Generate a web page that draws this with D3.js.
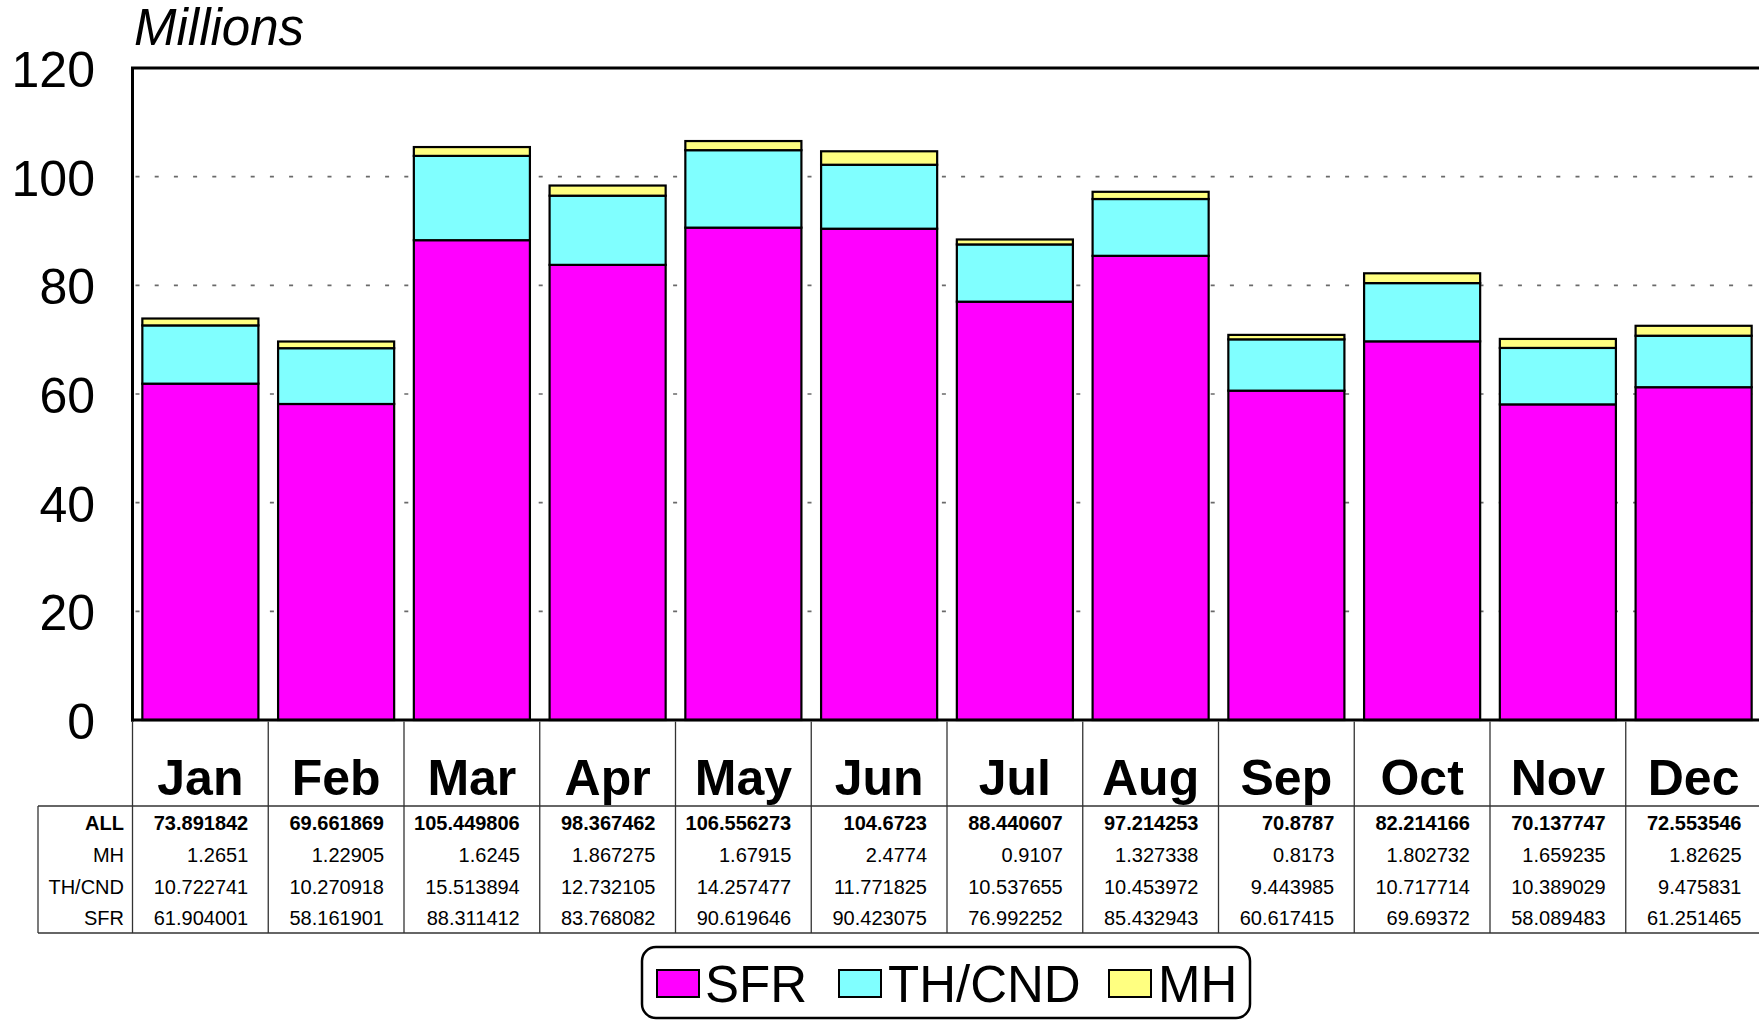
<!DOCTYPE html>
<html>
<head>
<meta charset="utf-8">
<script src="https://cdn.jsdelivr.net/npm/d3@7"></script>
<style>
html,body{margin:0;padding:0;background:#fff;}
svg{display:block;font-family:"Liberation Sans",Arial,Helvetica,sans-serif;}
</style>
</head>
<body>
<svg id="chart" width="1759" height="1024"></svg>
<script>
const months = ["Jan","Feb","Mar","Apr","May","Jun","Jul","Aug","Sep","Oct","Nov","Dec"];
const sfr = [61.904001,58.161901,88.311412,83.768082,90.619646,90.423075,76.992252,85.432943,60.617415,69.69372,58.089483,61.251465];
const thcnd = [10.722741,10.270918,15.513894,12.732105,14.257477,11.771825,10.537655,10.453972,9.443985,10.717714,10.389029,9.475831];
const mh = [1.2651,1.22905,1.6245,1.867275,1.67915,2.4774,0.9107,1.327338,0.8173,1.802732,1.659235,1.82625];
const allTotals = ["73.891842","69.661869","105.449806","98.367462","106.556273","104.6723","88.440607","97.214253","70.8787","82.214166","70.137747","72.553546"];
const mhText = ["1.2651","1.22905","1.6245","1.867275","1.67915","2.4774","0.9107","1.327338","0.8173","1.802732","1.659235","1.82625"];
const thText = ["10.722741","10.270918","15.513894","12.732105","14.257477","11.771825","10.537655","10.453972","9.443985","10.717714","10.389029","9.475831"];
const sfrText = ["61.904001","58.161901","88.311412","83.768082","90.619646","90.423075","76.992252","85.432943","60.617415","69.69372","58.089483","61.251465"];
const seriesKeys = ["SFR","TH/CND","MH"];
const seriesColors = ["#FF00FF","#80FFFF","#FFFF80"];
const yTicks = [0,20,40,60,80,100,120];
const yTitle = "Millions";

const svg = d3.select("#chart");
const X0 = 132.5, X1 = 1761.5, Y0 = 720, Y1 = 68;

const x = d3.scaleBand().domain(months).range([X0, X1]).paddingInner(0.145).paddingOuter(0.0725);
const xCol = d3.scaleBand().domain(months).range([X0, X1]).padding(0);
const y = d3.scaleLinear().domain([0,120]).range([Y0, Y1]);
const color = d3.scaleOrdinal().domain(seriesKeys).range(seriesColors);

const rows = months.map((m,i)=>({month:m,"SFR":sfr[i],"TH/CND":thcnd[i],"MH":mh[i]}));
const stacked = d3.stack().keys(seriesKeys)(rows);

// gridlines
svg.append("g").selectAll("line").data(yTicks.filter(d=>d>0)).join("line")
  .attr("x1", X0+3).attr("x2", 1759)
  .attr("y1", d=>y(d)).attr("y2", d=>y(d))
  .attr("stroke", "#6a6a6a").attr("stroke-width", 1.6)
  .attr("stroke-dasharray", "4 15.2");

// bars
svg.append("g").selectAll("g").data(stacked).join("g")
  .attr("fill", d=>color(d.key))
  .selectAll("rect").data(d=>d).join("rect")
  .attr("x", d=>x(d.data.month))
  .attr("width", x.bandwidth())
  .attr("y", d=>y(d[1]))
  .attr("height", d=>y(d[0])-y(d[1]))
  .attr("stroke", "#000").attr("stroke-width", 2.2);

// axes frame
svg.append("line").attr("x1", X0).attr("x2", X0).attr("y1", Y1).attr("y2", Y0+1.5)
  .attr("stroke","#000").attr("stroke-width",3);
svg.append("line").attr("x1", X0-1.5).attr("x2", 1759).attr("y1", Y1).attr("y2", Y1)
  .attr("stroke","#000").attr("stroke-width",3);
svg.append("line").attr("x1", X0-1.5).attr("x2", 1759).attr("y1", Y0).attr("y2", Y0)
  .attr("stroke","#000").attr("stroke-width",3);

// y tick labels
svg.append("g").selectAll("text").data(yTicks).join("text")
  .attr("x", 95).attr("y", d=>y(d)+2)
  .attr("text-anchor","end").attr("dominant-baseline","central")
  .attr("font-size", 50).attr("fill","#000")
  .text(d=>d);

// y title
svg.append("text").attr("x", 134).attr("y", 45)
  .attr("font-size", 51).attr("font-style","italic").attr("fill","#000")
  .text(yTitle);

// table
const tTop = 806, rowH = 31.75, tBottom = tTop + rowH*4;
const tbl = svg.append("g");
const bounds = months.map(m=>xCol(m)).concat([X1]);
tbl.selectAll("line.v").data(bounds).join("line").attr("class","v")
  .attr("x1", d=>d).attr("x2", d=>d).attr("y1", Y0+1.5).attr("y2", tBottom)
  .attr("stroke","#333").attr("stroke-width",1.3);
tbl.append("line").attr("x1",38).attr("x2",1759).attr("y1",tTop).attr("y2",tTop)
  .attr("stroke","#333").attr("stroke-width",1.3);
tbl.append("line").attr("x1",38).attr("x2",1759).attr("y1",tBottom).attr("y2",tBottom)
  .attr("stroke","#333").attr("stroke-width",1.3);
tbl.append("line").attr("x1",38).attr("x2",38).attr("y1",tTop).attr("y2",tBottom)
  .attr("stroke","#333").attr("stroke-width",1.3);

tbl.selectAll("text.m").data(months).join("text").attr("class","m")
  .attr("x", d=>xCol(d)+xCol.bandwidth()/2).attr("y", 795)
  .attr("text-anchor","middle").attr("font-size",50).attr("font-weight","bold")
  .text(d=>d);

const tableRows = [
  {label:"ALL", vals:allTotals, bold:true},
  {label:"MH", vals:mhText, bold:false},
  {label:"TH/CND", vals:thText, bold:false},
  {label:"SFR", vals:sfrText, bold:false}
];
tableRows.forEach((r,ri)=>{
  const by = tTop + rowH*ri + 24;
  tbl.append("text").attr("x",124).attr("y",by).attr("text-anchor","end")
    .attr("font-size",20).attr("font-weight", r.bold?"bold":"normal").text(r.label);
  tbl.append("g").selectAll("text").data(r.vals).join("text")
    .attr("x",(d,i)=>xCol(months[i])+xCol.bandwidth()-20).attr("y",by)
    .attr("text-anchor","end").attr("font-size",20)
    .attr("font-weight", r.bold?"bold":"normal").text(d=>d);
});

// legend
const lg = svg.append("g");
lg.append("rect").attr("x",642).attr("y",947).attr("width",608).attr("height",71)
  .attr("rx",14).attr("ry",14).attr("fill","#fff").attr("stroke","#000").attr("stroke-width",2.5);
const legendItems = [
  {key:"SFR", sx:657, tx:705},
  {key:"TH/CND", sx:839, tx:888},
  {key:"MH", sx:1109, tx:1158}
];
legendItems.forEach(it=>{
  lg.append("rect").attr("x",it.sx).attr("y",970).attr("width",42).attr("height",27)
    .attr("fill",color(it.key)).attr("stroke","#000").attr("stroke-width",2);
  lg.append("text").attr("x",it.tx).attr("y",1002)
    .attr("font-size",51).attr("fill","#000").text(it.key);
});
</script>
</body>
</html>
